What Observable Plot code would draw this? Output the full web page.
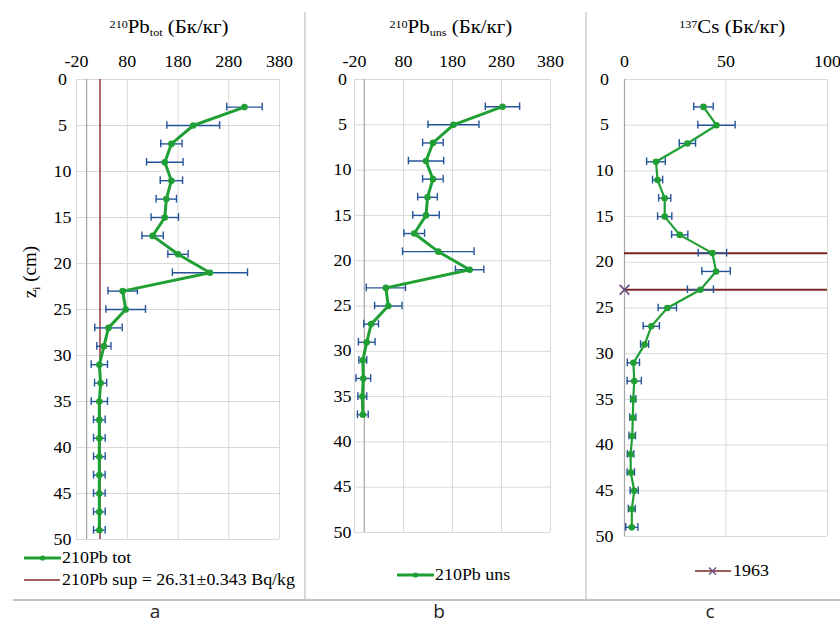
<!DOCTYPE html>
<html><head><meta charset="utf-8">
<script src="https://cdn.jsdelivr.net/npm/d3@7"></script>
<script src="https://cdn.jsdelivr.net/npm/@observablehq/plot@0.6"></script>
<style>
body{margin:0;background:#fff;}
#page{position:relative;width:840px;height:624px;overflow:hidden;font-family:'Liberation Serif','Times New Roman',serif;color:#000;background:#fff;}
.abs{position:absolute;}
.title{position:absolute;width:300px;text-align:center;font-size:19px;line-height:20px;white-space:nowrap;}
.title .in{display:inline-block;transform:scaleX(1.1);transform-origin:center;}
.sup{font-size:11px;position:relative;top:-5px;}
.sub{font-size:11px;position:relative;top:3px;}
.leg{position:absolute;display:flex;align-items:center;font-size:16px;line-height:20px;white-space:nowrap;}
.leg span{display:inline-block;transform:scaleX(1.12);transform-origin:left center;margin-left:1px;}
.panel{position:absolute;top:0;}
.panel text{font-family:'Liberation Serif','Times New Roman',serif;}
.lab{position:absolute;top:601px;font-family:"Open Sans",sans-serif;font-size:19px;line-height:20px;height:20px;width:40px;text-align:center;color:#222;}
</style>
</head><body><div id="page"></div>
<script>
// ---- data ----
const depthsTot = [3,5,7,9,11,13,15,17,19,21,23,25,27,29,31,33,35,37,39,41,43,45,47,49];
const totValues = [311,210,167,154,167,157,154,130,180,243,71,77,43,34,25,27.5,25,25,25,25,25,25,25,25];
const totErrors = [35,52,21,36,22,20,27,21,20,74,29,39,27,14,16,12,16,11.5,11.5,11.5,11.5,11.5,11.5,11.5];
const supValue = 26.31;

const depthsUns = [3,5,7,9,11,13,15,17,19,21,23,25,27,29,31,33,35,37];
const unsValues = [282,182,140,126,140,129,126,102,151,215,44,49,14,5,-3,-2,-4,-3];
const unsErrors = [35,52,21,36,21,20,27,21,73,29,40,28,15,17,8,15,9,11];

const depthsCs = [3,5,7,9,11,13,15,17,19,21,23,25,27,29,31,33,35,37,39,41,43,45,47,49];
const csValues = [38.9,45.3,31,15.5,16.3,19.8,19.8,27.2,43.3,45.1,37.4,21.1,13.2,9.9,4.4,4.8,4.3,4.1,3.8,3.0,3.1,4.8,3.6,3.6];
const csErrors = [4.8,9.2,4,4.6,2.5,3,3.5,4,7,7,6.4,4.5,4,2,3,3.5,1.3,1.5,1.6,1.6,1.8,2,1.7,3];

const eventDepths = [19, 23];
const marker1963X = [0];
const marker1963Depth = [23];

const xTicksPb = [-20, 80, 180, 280, 380];
const xTicksCs = [0, 50, 100];
const yTicks = [0,5,10,15,20,25,30,35,40,45,50];

// ---- colours ----
const GREEN = "#20a034", ERR = "#24539a", BROWN = "#8a2828", GRID = "#d9d9d9", AXIS = "#a6a6a6";
const SERIF = "'Liberation Serif','Times New Roman',serif";

const rows = (z, v, e) => z.map((d, i) => ({z: d, v: v[i], e: e[i]}));
const page = document.getElementById("page");

function panel({data, xTicks, left, width, height, ml, mr, mb, yPad, lw, extras = [], after = []}) {
  const cap = 0.42;
  const svg = Plot.plot({
    width, height, marginLeft: ml, marginRight: mr, marginTop: 79, marginBottom: mb,
    x: {domain: [xTicks[0], xTicks[xTicks.length - 1]]},
    y: {domain: [yTicks[0], yTicks[yTicks.length - 1]], reverse: true},
    style: {fontFamily: SERIF, fontSize: "16px", background: "transparent", color: "#000", overflow: "visible"},
    marks: [
      Plot.ruleX(xTicks, {stroke: GRID, strokeWidth: 1}),
      Plot.ruleY(yTicks, {stroke: GRID, strokeWidth: 1}),
      Plot.ruleX([0], {stroke: AXIS, strokeWidth: 1.2}),
      ...extras,
      Plot.ruleY(data, {y: "z", x1: d => d.v - d.e, x2: d => d.v + d.e, stroke: ERR, strokeWidth: 1.4}),
      Plot.ruleX(data, {x: d => d.v - d.e, y1: d => d.z - cap, y2: d => d.z + cap, stroke: ERR, strokeWidth: 1.4}),
      Plot.ruleX(data, {x: d => d.v + d.e, y1: d => d.z - cap, y2: d => d.z + cap, stroke: ERR, strokeWidth: 1.4}),
      Plot.line(data, {x: "v", y: "z", stroke: GREEN, strokeWidth: lw, strokeLinejoin: "round"}),
      Plot.dot(data, {x: "v", y: "z", r: 3.3, fill: GREEN, stroke: "none"}),
      ...after,
      Plot.axisX(xTicks, {anchor: "top", tickSize: 0, tickPadding: 13, label: null, tickFormat: d => String(d), fontFamily: SERIF}),
      Plot.axisY(yTicks, {anchor: "left", tickSize: 0, tickPadding: yPad, textAnchor: "middle", label: null, tickFormat: d => String(d), fontFamily: SERIF})
    ]
  });
  svg.querySelectorAll('g[aria-label$="tick label"] text').forEach(t => {
    t.setAttribute("font-family", SERIF);
    if (t.hasAttribute("transform")) {
      t.setAttribute("transform", t.getAttribute("transform") + " scale(1.12,1)");
    } else {
      const x = t.getAttribute("x") || 0, y = t.getAttribute("y") || 0;
      t.removeAttribute("x"); t.removeAttribute("y");
      t.setAttribute("transform", `translate(${x},${y}) scale(1.12,1)`);
    }
  });
  svg.classList.add("panel");
  svg.style.left = left + "px";
  svg.style.position = "absolute";
  svg.style.top = "0px";
  page.appendChild(svg);
}

// panel a
panel({
  data: rows(depthsTot, totValues, totErrors), xTicks: xTicksPb,
  left: 0, width: 305, height: 545, ml: 76, mr: 26, mb: 6, yPad: 14, lw: 3,
  extras: [Plot.ruleX([supValue], {stroke: BROWN, strokeWidth: 1.4})]
});
// panel b
panel({
  data: rows(depthsUns, unsValues, unsErrors), xTicks: xTicksPb,
  left: 305, width: 281, height: 540, ml: 49, mr: 36, mb: 8, yPad: 12, lw: 3
});
// panel c
panel({
  data: rows(depthsCs, csValues, csErrors), xTicks: xTicksCs,
  left: 586, width: 254, height: 545, ml: 38, mr: 13, mb: 9, yPad: 20, lw: 2.2,
  extras: [Plot.ruleY(eventDepths, {x1: xTicksCs[0], x2: xTicksCs[xTicksCs.length - 1], stroke: "#7a2626", strokeWidth: 2})],
  after: [Plot.dot(marker1963Depth.map((z, i) => ({z, x: marker1963X[i]})), {x: "x", y: "z", symbol: "times", r: 4.5, stroke: "#6a4c7c", strokeWidth: 1.6})]
});

// static layout: separators, titles, legends, labels
page.insertAdjacentHTML("beforeend", `
<div class="abs" style="left:304px;top:12px;width:2px;height:588px;background:#d9d9d9"></div>
<div class="abs" style="left:585px;top:12px;width:2px;height:588px;background:#d9d9d9"></div>
<div class="abs" style="left:13px;top:599px;width:827px;height:1.5px;background:#c4c4c4"></div>

<div class="title" style="left:19px;top:17px"><span class="in"><span class="sup">210</span>Pb<span class="sub">tot</span> (Бк/кг)</span></div>
<div class="title" style="left:301px;top:17px"><span class="in"><span class="sup">210</span>Pb<span class="sub">uns</span> (Бк/кг)</span></div>
<div class="title" style="left:582px;top:17px"><span class="in"><span class="sup">137</span>Cs (Бк/кг)</span></div>

<div class="abs" style="left:30px;top:272px;transform:translate(-50%,-50%) rotate(-90deg);font-size:19px;white-space:nowrap">z<span class="sub" style="top:4px">i</span> (cm)</div>

<div class="leg" style="left:24px;top:548px"><svg width="37" height="20"><line x1="0" y1="10" x2="37" y2="10" stroke="${GREEN}" stroke-width="3"/><circle cx="18.5" cy="10" r="2.6" fill="${GREEN}"/></svg><span>210Pb tot</span></div>
<div class="leg" style="left:24px;top:570px"><svg width="37" height="20"><line x1="0" y1="10" x2="36" y2="10" stroke="${BROWN}" stroke-width="1.4"/></svg><span>210Pb sup = 26.31±0.343 Bq/kg</span></div>
<div class="leg" style="left:397px;top:565px"><svg width="37" height="20"><line x1="0" y1="10" x2="37" y2="10" stroke="${GREEN}" stroke-width="3"/><circle cx="18.5" cy="10" r="2.6" fill="${GREEN}"/></svg><span>210Pb uns</span></div>
<div class="leg" style="left:695px;top:561px"><svg width="37" height="20"><line x1="0" y1="10" x2="36" y2="10" stroke="#7a2626" stroke-width="1.4"/><path d="M14,6.5L21,13.5M21,6.5L14,13.5" stroke="#6a4c7c" stroke-width="1.4"/></svg><span>1963</span></div>

<div class="lab" style="left:135px">a</div>
<div class="lab" style="left:419px">b</div>
<div class="lab" style="left:690px">c</div>
`);
</script>
</body></html>
